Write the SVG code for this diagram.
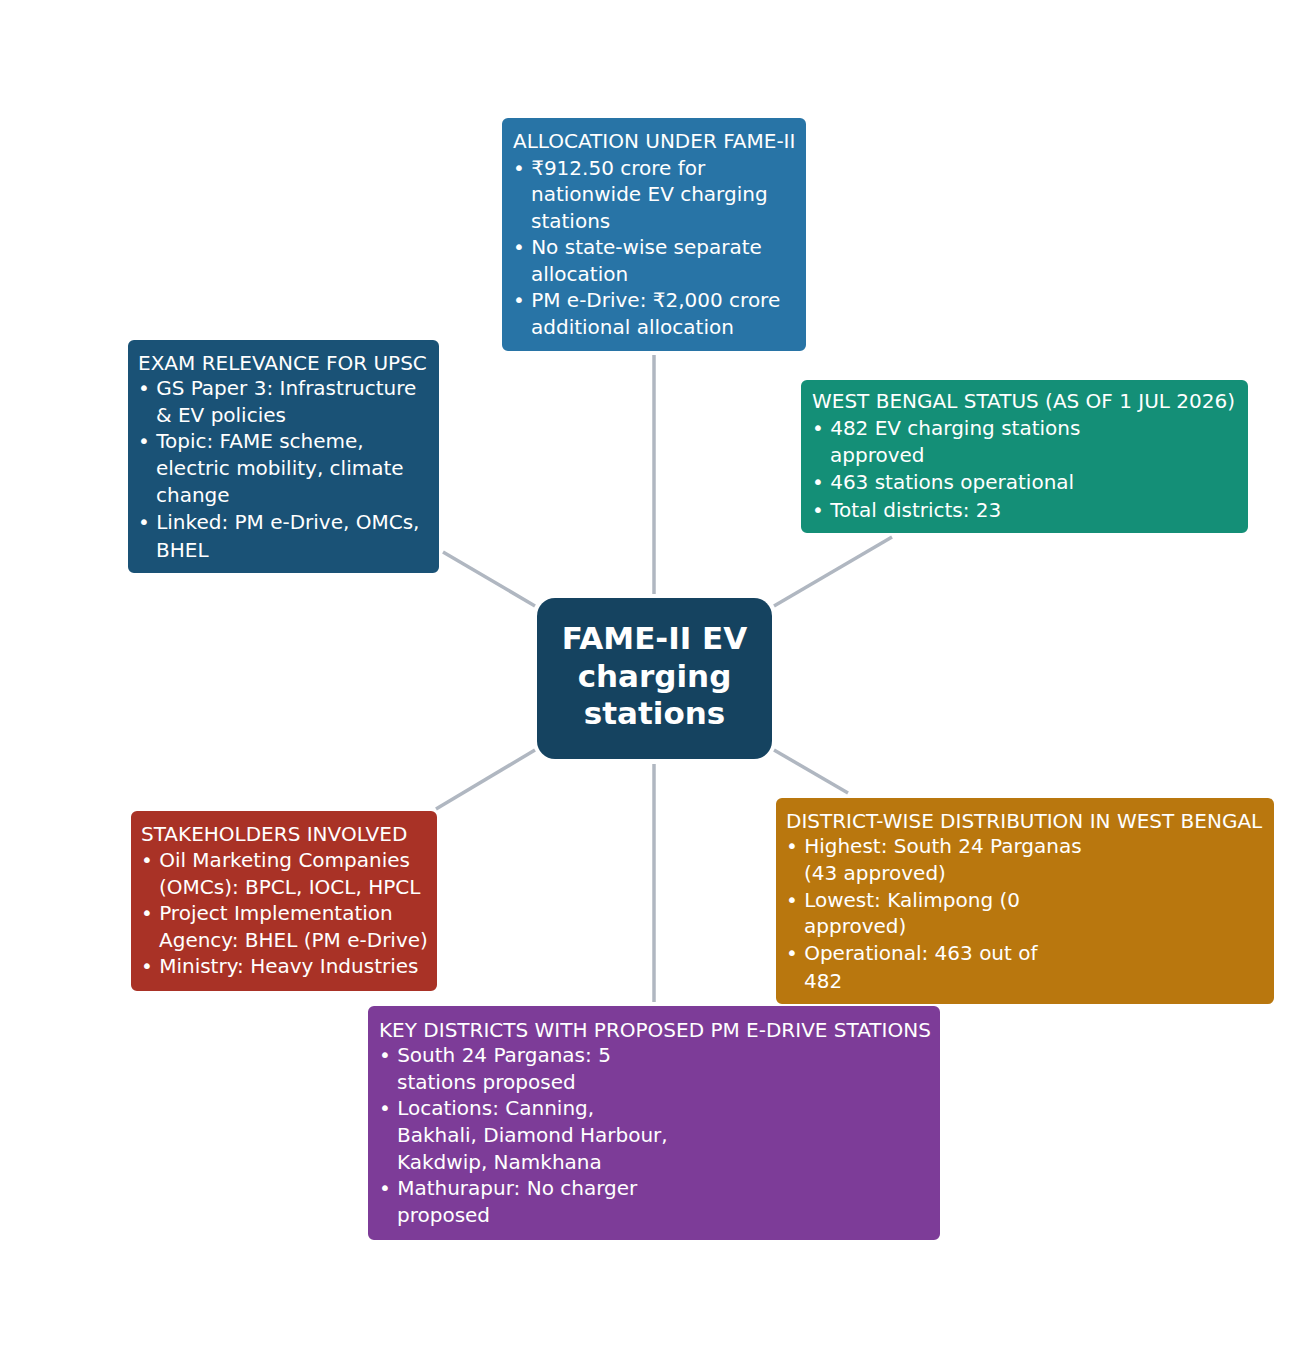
<svg xmlns="http://www.w3.org/2000/svg" width="1308" height="1358" viewBox="0 0 1308 1358">
<style>
.box{stroke:#ffffff;stroke-width:2}
.t{font-family:"DejaVu Sans",sans-serif;font-size:20px;fill:#ffffff}
.c{font-family:"DejaVu Sans",sans-serif;font-size:31px;font-weight:bold;fill:#ffffff;text-anchor:middle}
.ln{stroke:#b0b7c1;stroke-width:3.5;fill:none}
</style>
<rect width="1308" height="1358" fill="#ffffff"/>
<g id="connectors">
<line class="ln" x1="654" y1="355" x2="654" y2="594"/>
<line class="ln" x1="774" y1="606" x2="892" y2="537"/>
<line class="ln" x1="443" y1="552" x2="535" y2="606"/>
<line class="ln" x1="436" y1="809" x2="535" y2="750"/>
<line class="ln" x1="774" y1="750" x2="848" y2="793"/>
<line class="ln" x1="654" y1="764" x2="654" y2="1002"/>
</g>
<g id="allocation">
<rect class="box" x="501" y="117" width="306" height="235" rx="7" fill="#2874a6"/>
<text class="t" x="513" y="148">ALLOCATION UNDER FAME-II</text>
<text class="t" x="513" y="175">• ₹912.50 crore for</text>
<text class="t" x="531" y="201">nationwide EV charging</text>
<text class="t" x="531" y="228">stations</text>
<text class="t" x="513" y="254">• No state-wise separate</text>
<text class="t" x="531" y="281">allocation</text>
<text class="t" x="513" y="307">• PM e-Drive: ₹2,000 crore</text>
<text class="t" x="531" y="334">additional allocation</text>
</g>
<g id="westbengal">
<rect class="box" x="800" y="379" width="449" height="155" rx="7" fill="#148f77"/>
<text class="t" x="812" y="408">WEST BENGAL STATUS (AS OF 1 JUL 2026)</text>
<text class="t" x="812" y="435">• 482 EV charging stations</text>
<text class="t" x="830" y="462">approved</text>
<text class="t" x="812" y="489">• 463 stations operational</text>
<text class="t" x="812" y="517">• Total districts: 23</text>
</g>
<g id="exam">
<rect class="box" x="127" y="339" width="313" height="235" rx="7" fill="#1a5276"/>
<text class="t" x="138" y="370">EXAM RELEVANCE FOR UPSC</text>
<text class="t" x="138" y="395">• GS Paper 3: Infrastructure</text>
<text class="t" x="156" y="422">&amp; EV policies</text>
<text class="t" x="138" y="448">• Topic: FAME scheme,</text>
<text class="t" x="156" y="475">electric mobility, climate</text>
<text class="t" x="156" y="502">change</text>
<text class="t" x="138" y="529">• Linked: PM e-Drive, OMCs,</text>
<text class="t" x="156" y="557">BHEL</text>
</g>
<g id="center">
<rect x="537" y="598" width="235" height="161" rx="18" fill="#154360"/>
<text class="c" x="654.5" y="649">FAME-II EV</text>
<text class="c" x="654.5" y="687">charging</text>
<text class="c" x="654.5" y="724">stations</text>
</g>
<g id="stakeholders">
<rect class="box" x="130" y="810" width="308" height="182" rx="7" fill="#a93226"/>
<text class="t" x="141" y="841">STAKEHOLDERS INVOLVED</text>
<text class="t" x="141" y="867">• Oil Marketing Companies</text>
<text class="t" x="159" y="894">(OMCs): BPCL, IOCL, HPCL</text>
<text class="t" x="141" y="920">• Project Implementation</text>
<text class="t" x="159" y="947">Agency: BHEL (PM e-Drive)</text>
<text class="t" x="141" y="973">• Ministry: Heavy Industries</text>
</g>
<g id="district">
<rect class="box" x="775" y="797" width="500" height="208" rx="7" fill="#b9770e"/>
<text class="t" x="786" y="828">DISTRICT-WISE DISTRIBUTION IN WEST BENGAL</text>
<text class="t" x="786" y="853">• Highest: South 24 Parganas</text>
<text class="t" x="804" y="880">(43 approved)</text>
<text class="t" x="786" y="907">• Lowest: Kalimpong (0</text>
<text class="t" x="804" y="933">approved)</text>
<text class="t" x="786" y="960">• Operational: 463 out of</text>
<text class="t" x="804" y="988">482</text>
</g>
<g id="keydistricts">
<rect class="box" x="367" y="1005" width="574" height="236" rx="7" fill="#7d3c98"/>
<text class="t" x="379" y="1037">KEY DISTRICTS WITH PROPOSED PM E-DRIVE STATIONS</text>
<text class="t" x="379" y="1062">• South 24 Parganas: 5</text>
<text class="t" x="397" y="1089">stations proposed</text>
<text class="t" x="379" y="1115">• Locations: Canning,</text>
<text class="t" x="397" y="1142">Bakhali, Diamond Harbour,</text>
<text class="t" x="397" y="1169">Kakdwip, Namkhana</text>
<text class="t" x="379" y="1195">• Mathurapur: No charger</text>
<text class="t" x="397" y="1222">proposed</text>
</g>
</svg>
